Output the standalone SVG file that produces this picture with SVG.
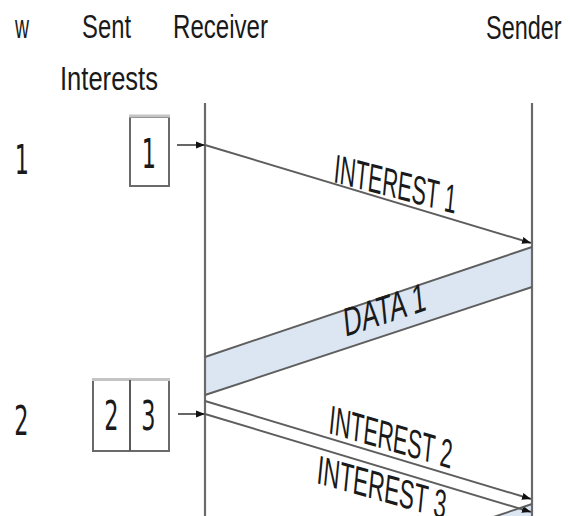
<svg xmlns="http://www.w3.org/2000/svg" width="570" height="516" viewBox="0 0 570 516">
  <style>
    .hdr { font-family: "Liberation Sans", Arial, sans-serif; font-size: 34px; fill: #1a1a1a; }
    .dig { font-family: "DejaVu Sans", "Liberation Sans", sans-serif; font-size: 40px; fill: #1a1a1a; text-anchor: middle; }
    .lbl { font-family: "Liberation Sans", Arial, sans-serif; font-size: 40px; fill: #1a1a1a; }
    .life { stroke: #6a6a6a; stroke-width: 2.2; fill: none; }
    .msg { stroke: #5e5e5e; stroke-width: 1.9; fill: none; }
    .box { fill: #ffffff; stroke: #6a6a6a; stroke-width: 2; }
    .boxtop { stroke: #c4c4c4; stroke-width: 3; }
    .band { fill: #dce6f2; stroke: none; }
  </style>
  <defs>
    <marker id="ah" markerUnits="userSpaceOnUse" markerWidth="10" markerHeight="8" refX="9" refY="4" orient="auto">
      <path d="M0,0.5 L9,4 L0,7.5 Z" fill="#111"/>
    </marker>
  </defs>
  <rect width="570" height="516" fill="#ffffff"/>

  <g id="headers">
    <text class="hdr" x="15" y="38" textLength="14" lengthAdjust="spacingAndGlyphs">w</text>
    <text class="hdr" x="82" y="38" textLength="49" lengthAdjust="spacingAndGlyphs">Sent</text>
    <text class="hdr" x="60" y="90" textLength="98" lengthAdjust="spacingAndGlyphs">Interests</text>
    <text class="hdr" x="173" y="38" textLength="95" lengthAdjust="spacingAndGlyphs">Receiver</text>
    <text class="hdr" transform="translate(486,39) scale(0.69,1)">Sender</text>
  </g>

  <g id="w-labels">
    <text class="dig" transform="translate(22,174) scale(0.56,1)">1</text>
    <text class="dig" transform="translate(21.5,435) scale(0.56,1)">2</text>
  </g>

  <g id="data1">
    <polygon class="band" points="205,357 532,247 532,287 205,395"/>
  </g>
  <g id="data2">
    <polygon class="band" points="532,504 532,544 440,575 440,535"/>
  </g>

  <g id="receiver">
    <line class="life" x1="205" y1="103" x2="205" y2="516"/>
  </g>
  <g id="sender">
    <line class="life" x1="532" y1="103" x2="532" y2="516"/>
  </g>

  <g id="box1">
    <rect class="box" x="130" y="117" width="39" height="69"/>
    <line class="boxtop" x1="129" y1="116" x2="170" y2="116"/>
    <text class="dig" transform="translate(149,168) scale(0.56,1)">1</text>
  </g>

  <g id="box23">
    <rect class="box" x="93" y="380" width="76" height="71"/>
    <line class="boxtop" x1="92" y1="379.5" x2="170" y2="379.5"/>
    <line stroke="#5a5a5a" stroke-width="2" x1="130" y1="380" x2="130" y2="451"/>
    <text class="dig" transform="translate(111.5,430) scale(0.56,1)">2</text>
    <text class="dig" transform="translate(148.5,430) scale(0.56,1)">3</text>
  </g>

  <g id="connectors">
    <line class="msg" x1="177" y1="145" x2="205" y2="145" marker-end="url(#ah)"/>
    <line class="msg" x1="205" y1="145" x2="531" y2="243" marker-end="url(#ah)"/>
    <line class="msg" x1="205" y1="357" x2="532" y2="247"/>
    <line class="msg" x1="205" y1="395" x2="532" y2="287"/>
    <line class="msg" x1="178" y1="414" x2="205" y2="414" marker-end="url(#ah)"/>
    <line class="msg" x1="205" y1="401" x2="531" y2="499" marker-end="url(#ah)"/>
    <line class="msg" x1="205" y1="414" x2="531" y2="512" marker-end="url(#ah)"/>
    <line class="msg" x1="532" y1="504" x2="440" y2="535"/>
  </g>

  <g id="message-labels">
    <text class="lbl" transform="matrix(1,0.26,-0.1,1,333,182)" x="0" y="0" textLength="122" lengthAdjust="spacingAndGlyphs">INTEREST 1</text>
    <text class="lbl" transform="matrix(1,-0.33,0.1,1,345,337)" x="0" y="0" textLength="82" lengthAdjust="spacingAndGlyphs">DATA 1</text>
    <text class="lbl" transform="matrix(1,0.29,-0.1,1,328,433)" x="0" y="0" textLength="123" lengthAdjust="spacingAndGlyphs">INTEREST 2</text>
    <text class="lbl" transform="matrix(1,0.28,-0.1,1,316,483)" x="0" y="0" textLength="129" lengthAdjust="spacingAndGlyphs">INTEREST 3</text>
  </g>
</svg>
